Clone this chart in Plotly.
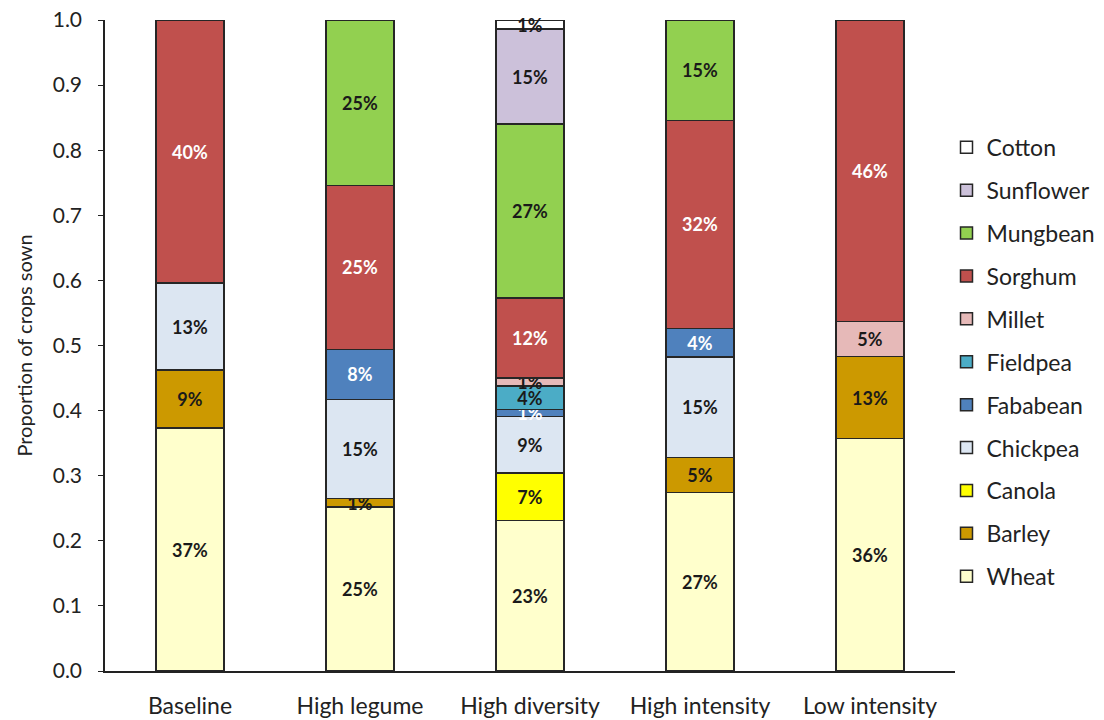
import plotly.graph_objects as go

# Cropping scenarios (x-axis categories)
scenarios = ["Baseline", "High legume", "High diversity", "High intensity", "Low intensity"]

# Proportion of crops sown in each scenario (None = crop not sown)
wheat     = [0.373, 0.252, 0.231, 0.274, 0.357]
barley    = [0.089, 0.013, None,  0.054, 0.126]
canola    = [None,  None,  0.073, None,  None]
chickpea  = [0.134, 0.152, 0.087, 0.154, None]
fababean  = [None,  0.077, 0.011, 0.044, None]
fieldpea  = [None,  None,  0.036, None,  None]
millet    = [None,  None,  0.012, None,  0.054]
sorghum   = [0.404, 0.252, 0.123, 0.320, 0.463]
mungbean  = [None,  0.254, 0.267, 0.154, None]
sunflower = [None,  None,  0.146, None,  None]
cotton    = [None,  None,  0.014, None,  None]

series = [
    ("Wheat", wheat, "#FFFFCC", "#1a1a1a"),
    ("Barley", barley, "#CC9900", "#1a1a1a"),
    ("Canola", canola, "#FFFF00", "#1a1a1a"),
    ("Chickpea", chickpea, "#DCE6F2", "#1a1a1a"),
    ("Fababean", fababean, "#4F81BD", "#ffffff"),
    ("Fieldpea", fieldpea, "#4BACC6", "#1a1a1a"),
    ("Millet", millet, "#E6B9B8", "#1a1a1a"),
    ("Sorghum", sorghum, "#C0504D", "#ffffff"),
    ("Mungbean", mungbean, "#92D050", "#1a1a1a"),
    ("Sunflower", sunflower, "#CCC1DA", "#1a1a1a"),
    ("Cotton", cotton, "#FFFFFF", "#1a1a1a"),
]

FONT = "Lato"
INK = "#222222"

fig = go.Figure()
n = len(series)
for i, (name, vals, color, txtcolor) in enumerate(series):
    fig.add_trace(go.Bar(
        name=name,
        x=scenarios,
        y=vals,
        legendgroup=name,
        legendrank=100 + n - i,   # top crop of the stack listed first
        marker=dict(color=color, line=dict(color="#262626", width=1.5)),
        texttemplate="%{y:.0%}",
        textposition="inside",
        insidetextanchor="middle",
        textangle=0,
        textfont=dict(family=FONT, size=18, color=txtcolor, weight="bold"),
        cliponaxis=False,
    ))

fig.update_layout(
    width=1104,
    height=720,
    barmode="stack",
    bargap=0.6,
    plot_bgcolor="white",
    paper_bgcolor="white",
    font=dict(family=FONT, size=21, color=INK),
    margin=dict(l=105, r=149, t=20, b=49, autoexpand=False),
    uniformtext=dict(minsize=18, mode="show"),
    legend=dict(
        traceorder="grouped",
        tracegroupgap=10,
        x=0.99,
        xanchor="left",
        y=0.475,
        yanchor="middle",
        font=dict(family=FONT, size=23, color=INK),
        itemwidth=30,
    ),
    showlegend=True,
)

fig.update_yaxes(
    range=[0, 1.0],
    tickvals=[i / 10 for i in range(11)],
    tickformat=".1f",
    ticks="outside",
    ticklen=5,
    tickcolor=INK,
    showline=True,
    linecolor=INK,
    linewidth=1.5,
    showgrid=False,
    zeroline=False,
    automargin=False,
    ticklabelstandoff=12,
    tickfont=dict(family=FONT, size=21, color=INK),
    title=dict(text="Proportion of crops sown", font=dict(family=FONT, size=20, color=INK), standoff=15),
)
fig.update_xaxes(
    showline=True,
    linecolor=INK,
    linewidth=1.5,
    ticks="",
    showgrid=False,
    automargin=False,
    ticklabelstandoff=14,
    tickfont=dict(family=FONT, size=23, color=INK),
)

fig.write_html("out.html")
